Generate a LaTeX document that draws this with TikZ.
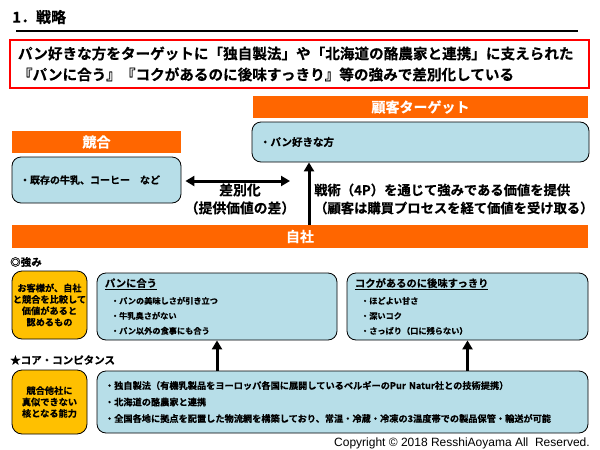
\documentclass[tikz,border=0pt]{standalone}
\usepackage{fontspec}
\setmainfont{Noto Sans CJK JP}[UprightFont=* Bold,UprightFeatures={FakeBold=0.4}]
\newfontfamily\latinfont{Liberation Sans}
\usetikzlibrary{arrows.meta,positioning,calc}
\definecolor{tangerine}{HTML}{FF6600}
\definecolor{iceblue}{HTML}{B7DEE8}
\definecolor{amber}{HTML}{FFC000}
\definecolor{alert}{HTML}{FF0000}

\begin{document}
\begin{tikzpicture}[x=1pt,y=-1pt,
    header/.style={fill=tangerine,text=white,font=\fontsize{14}{16}\selectfont,
                   inner sep=0pt,anchor=center},
    panel/.style={draw=black,line width=0.8pt,fill=iceblue,rounded corners=9pt,
                  inner xsep=8pt,inner ysep=0pt,align=left,anchor=center},
    tag/.style={draw=black,line width=0.8pt,fill=amber,rounded corners=10pt,
                inner sep=0pt,align=center,font=\fontsize{9.2}{11.4}\selectfont},
    caption/.style={font=\fontsize{10.5}{12}\selectfont,anchor=west,inner sep=0pt},
    bigarrow/.style={line width=3pt,-{Triangle[width=10pt,length=9pt]}},
    dblarrow/.style={line width=3pt,{Triangle[width=10pt,length=9pt]}-{Triangle[width=10pt,length=9pt]}}]
  \useasboundingbox[fill=white] (0,0) rectangle (600,450);
  % heading
  \node[anchor=west,inner sep=0pt,font=\fontsize{15}{18}\selectfont] (title) at (12,17) {1．戦略};
  \draw[line width=2pt] (16,31) -- (578,31);
  \node[draw=alert,line width=1.6pt,minimum width=579pt,minimum height=48pt,
        inner xsep=8pt,inner ysep=0pt,text width=563pt,align=left,
        font=\fontsize{14.6}{21}\selectfont] (claim) at (299.5,64)
    {パン好きな方をターゲットに「独自製法」や「北海道の酪農家と連携」に支えられた\\『パンに合う』『コクがあるのに後味すっきり』等の強みで差別化している};
  % customer and competitor
  \node[header,minimum width=335pt,minimum height=22pt] (custhead) at (420.5,107) {顧客ターゲット};
  \node[panel,minimum height=40pt,text width=321pt,font=\fontsize{10.5}{12}\selectfont] (cust) at (420.5,142) {・パン好きな方};
  \node[header,minimum width=169pt,minimum height=22pt] (comphead) at (96.5,142) {競合};
  \node[panel,minimum height=46pt,text width=153pt,font=\fontsize{10}{12}\selectfont] (comp) at (96.5,180) {・既存の牛乳、コーヒー　など};
  \coordinate (diffend) at (290,0);
  \coordinate (tacx) at (309,0);
  \draw[dblarrow] ([xshift=4pt,yshift=-1pt]comp.east) -- ([yshift=-1pt]comp.east -| diffend);
  \node[font=\fontsize{13.8}{18}\selectfont,align=center,inner sep=0pt] (difflabel) at (240,199) {差別化\\（提供価値の差）};
  % own company
  \node[header,minimum width=576pt,minimum height=23pt] (self) at (300,236.5) {自社};
  \draw[bigarrow] (self.north -| tacx) -- (cust.south -| tacx);
  \node[anchor=west,align=left,inner sep=0pt,font=\fontsize{13.3}{18}\selectfont] (taclabel) at (314,199)
    {戦術（4P）を通じて強みである価値を提供\\（顧客は購買プロセスを経て価値を受け取る）};
  % strengths
  \node[caption] (strlabel) at (10,262) {◎強み};
  \node[tag,minimum width=75pt,minimum height=68pt] (tag1) at (49.5,305) {お客様が、自社\\と競合を比較して\\価値があると\\認めるもの};
  \node[panel,minimum height=67pt,text width=224pt,font=\fontsize{8.2}{15}\selectfont] (fit1) at (217,306.5)
    {{\fontsize{10.3}{15}\selectfont\underline{パンに合う}}\\[2pt]
     \hspace*{6pt}・パンの美味しさが引き立つ\\
     \hspace*{6pt}・牛乳臭さがない\\
     \hspace*{6pt}・パン以外の食事にも合う};
  \node[panel,minimum height=67pt,text width=225pt,font=\fontsize{8.2}{15}\selectfont] (fit2) at (467.5,306.5)
    {{\fontsize{10.3}{15}\selectfont\underline{コクがあるのに後味すっきり}}\\[2pt]
     \hspace*{6pt}・ほどよい甘さ\\
     \hspace*{6pt}・深いコク\\
     \hspace*{6pt}・さっぱり（口に残らない）};
  % core competence
  \node[caption] (corelabel) at (10,360) {★コア・コンピタンス};
  \node[tag,minimum width=75pt,minimum height=64pt] (tag2) at (49.5,402) {競合他社に\\真似できない\\核となる能力};
  \node[panel,minimum height=62pt,text width=475pt,font=\fontsize{9.2}{16.5}\selectfont] (core) at (342.5,402)
    {・独自製法（有機乳製品をヨーロッパ各国に展開しているベルギーのPur Natur社との技術提携）\\
     ・北海道の酪農家と連携\\
     ・全国各地に拠点を配置した物流網を構築しており、常温・冷蔵・冷凍の3温度帯での製品保管・輸送が可能};
  \draw[bigarrow] (core.north -| fit1.south) -- (fit1.south);
  \draw[bigarrow] (core.north -| fit2.south) -- (fit2.south);
  \node[anchor=east,inner sep=0pt,font=\latinfont\fontsize{12}{14}\selectfont] (copy) at (590,443)
    {Copyright © 2018 ResshiAoyama All\ \ Reserved.};
\end{tikzpicture}
\end{document}
